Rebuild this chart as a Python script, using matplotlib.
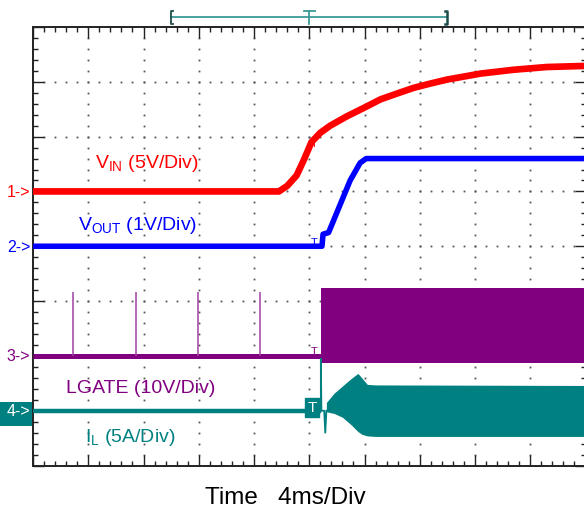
import matplotlib
matplotlib.use('Agg')
import matplotlib.pyplot as plt
import numpy as np
from matplotlib.patches import Rectangle

plt.rcParams['font.family'] = ['Liberation Sans', 'DejaVu Sans']
plt.rcParams['mathtext.fontset'] = 'custom'
plt.rcParams['mathtext.rm'] = 'Liberation Sans'

# ---------------- data (divisions) ----------------
trigger_t = 5.0
channel_refs = [5.0, 4.0, 2.0, 1.0]           # ground markers 1-> 2-> 3-> 4->
channel_names = ['1->', '2->', '3->', '4->']

vin_t = [0, 4.45, 4.6, 4.77, 4.9, 5.04, 5.2, 5.38, 5.68, 6.0, 6.29, 6.6, 6.89, 7.2, 7.49, 8.1, 8.7, 9.3, 10.0]
vin_v = [5.0, 5.0, 5.1, 5.29, 5.57, 5.9, 6.07, 6.2, 6.37, 6.53, 6.68, 6.79, 6.89, 6.97, 7.04, 7.15, 7.22, 7.27, 7.29]

vout_t = [0, 5.23, 5.25, 5.35, 5.74, 5.92, 6.03, 10.0]
vout_v = [4.0, 4.0, 4.22, 4.25, 5.2, 5.52, 5.6, 5.6]

lgate_base_t = [0, 5.21]
lgate_base_v = [2.0, 2.0]
lgate_spike_t = [0.73, 1.86, 2.98, 4.11]
lgate_spike_top = 3.16
lgate_band_t = [5.21, 10.0]
lgate_band_lo = [1.87, 1.87]
lgate_band_hi = [3.24, 3.24]

il_line_t = [0, 5.21, 5.21, 5.22, 5.27, 5.29, 5.31]
il_line_v = [1.0, 1.0, 1.95, 1.0, 1.0, 0.6, 1.0]
il_band_t = [5.31, 5.45, 5.6, 5.75, 5.88, 5.95, 6.05, 6.2, 10.0]
il_band_hi = [1.15, 1.32, 1.45, 1.58, 1.68, 1.6, 1.48, 1.47, 1.46]
il_band_lo = [0.98, 0.95, 0.88, 0.75, 0.62, 0.57, 0.54, 0.53, 0.53]

mem_bar = [2.5, 7.5]   # top record-length bar

RED = '#ff0000'
BLUE = '#0000ff'
PURPLE = '#800080'
TEAL = '#008080'

# ---------------- figure ----------------
fig = plt.figure(figsize=(5.84, 5.10), dpi=100)
W, H = 584, 510
ax = fig.add_axes([33 / W, 1 - 466.5 / H, 552.5 / W, 438.5 / H])
ax.set_xlim(0, 10)
ax.set_ylim(0, 8)

# dotted graticule
gx = np.arange(0, 10.001, 0.2)
gy = np.arange(0, 8.001, 0.2)
for i in range(1, 10):
    ax.plot(np.full_like(gy, i), gy, ls='none', marker='s', ms=1.3, color='#555555', mew=0, zorder=1)
for j in range(1, 8):
    ax.plot(gx, np.full_like(gx, j), ls='none', marker='s', ms=1.3, color='#555555', mew=0, zorder=1)

# ticks
ax.set_xticks(range(11))
ax.set_yticks(range(9))
ax.set_xticks(gx, minor=True)
ax.set_yticks(gy, minor=True)
ax.tick_params(which='both', direction='in', top=True, right=True,
               labelbottom=False, labelleft=False, color='#222222', width=1.0)
ax.tick_params(which='major', length=8)
ax.tick_params(which='minor', length=3.5)
for s in ax.spines.values():
    s.set_linewidth(1.4)
    s.set_color('#222222')

# traces
ax.fill_between(lgate_band_t, lgate_band_lo, lgate_band_hi, color=PURPLE, lw=0, zorder=3)
ax.plot(lgate_base_t, lgate_base_v, color=PURPLE, lw=3.6, zorder=3, solid_capstyle='butt')
ax.vlines(lgate_spike_t, lgate_base_v[0], lgate_spike_top, color='#a040a0', lw=1.1, zorder=3)

ax.fill_between(il_band_t, il_band_lo, il_band_hi, color=TEAL, lw=0, zorder=4)
ax.plot(il_line_t, il_line_v, color=TEAL, lw=1.3, zorder=4)
ax.plot(il_line_t[:2], il_line_v[:2], color=TEAL, lw=3.2, zorder=4, solid_capstyle='butt')

ax.plot(vout_t, vout_v, color=BLUE, lw=4.0, zorder=5, solid_capstyle='butt')
ax.plot(vin_t, vin_v, color=RED, lw=4.8, zorder=6, solid_capstyle='butt')

# small trigger marks on the traces
for tt, vv, col in [(vin_t, vin_v, RED), (vout_t, vout_v, BLUE), (lgate_base_t, lgate_base_v, PURPLE)]:
    yv = np.interp(trigger_t, tt, vv) if trigger_t <= tt[-1] else vv[-1]
    ax.text(trigger_t + 0.08, yv + 0.08, 'T', color=col, fontsize=8, ha='center', va='center', zorder=7)

# teal T box
ax.text(trigger_t + 0.05, il_line_v[0] + 0.06, 'T', color='white', fontsize=11, ha='center', va='center',
        zorder=8, bbox=dict(boxstyle='square,pad=0.18', fc=TEAL, ec=TEAL))

# channel labels
cols = [RED, BLUE, PURPLE, 'white']
for name, ref, c in zip(channel_names, channel_refs, cols):
    ax.text(-0.05, ref, name, color=c, fontsize=11.5, ha='right', va='center', clip_on=False, zorder=9)
fig.add_artist(Rectangle((0, 1 - 427 / H), 32 / W, 24 / H, transform=fig.transFigure,
                         facecolor=TEAL, edgecolor='none', zorder=0))

# trace annotations
ax.text(1.12, 5.44, r'V$_\mathregular{IN}$ (5V/Div)', color=RED, fontsize=14, va='baseline', zorder=9)
ax.text(0.82, 4.32, r'V$_\mathregular{OUT}$ (1V/Div)', color=BLUE, fontsize=14, va='baseline', zorder=9)
ax.text(0.59, 1.34, 'LGATE (10V/Div)', color=PURPLE, fontsize=14, va='baseline', zorder=9)
ax.text(0.94, 0.45, r'I$_\mathregular{L}$ (5A/Div)', color=TEAL, fontsize=14, va='baseline', zorder=9)

# top record bar
ybar = 8.18
ax.plot(mem_bar, [ybar, ybar], color='#3a9a96', lw=1.3, clip_on=False)
ax.plot([mem_bar[0] + 0.04, mem_bar[0], mem_bar[0], mem_bar[0] + 0.04], [ybar + 0.12, ybar + 0.12, ybar - 0.12, ybar - 0.12],
        color='#1d4d4a', lw=1.3, clip_on=False)
ax.plot([mem_bar[1] - 0.04, mem_bar[1], mem_bar[1], mem_bar[1] - 0.04], [ybar + 0.12, ybar + 0.12, ybar - 0.12, ybar - 0.12],
        color='#1d4d4a', lw=1.8, clip_on=False)
ax.plot([trigger_t, trigger_t], [ybar + 0.12, ybar - 0.12], color='#3a9a96', lw=1.3, clip_on=False)
ax.plot([trigger_t - 0.1, trigger_t + 0.1], [ybar + 0.12, ybar + 0.12], color='#3a9a96', lw=1.3, clip_on=False)

fig.text(205 / W, 1 - 509.5 / H, 'Time   4ms/Div', fontsize=17.5, ha='left', va='bottom')

fig.savefig('out.png', dpi=100)
